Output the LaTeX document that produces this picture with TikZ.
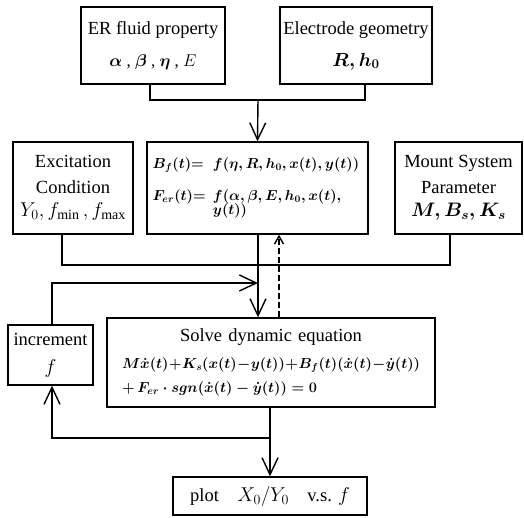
\RequirePackage{fix-cm}
\documentclass[tikz,border=0pt]{standalone}
\usepackage{amsmath}
\usepackage{fontspec}
\setmainfont{Liberation Serif}
\usetikzlibrary{arrows.meta}

\begin{document}
\begin{tikzpicture}
[x=1pt, y=-1pt, line width=1.4pt, color=black,
 >={Straight Barb[length=17pt,width=16pt]},
 box/.style={draw, rectangle, align=center, inner sep=0pt,
   font=\fontsize{18.5}{24}\selectfont}]
%[scale=1, every node/.style={draw}]
  \useasboundingbox (0,0) rectangle (524,517);
  \node [box, minimum width=144, minimum height=77] (er) at (153,45.5)
    {ER fluid property\\[8pt]
     {\fontsize{17}{20}\selectfont$\boldsymbol{\alpha}$ , $\boldsymbol{\beta}$ , $\boldsymbol{\eta}$ , $E$}};
  \node [box, minimum width=152, minimum height=77] (geo) at (356,45.5)
    {Electrode geometry\\[8pt]
     {\fontsize{19}{20}\selectfont\boldmath$R, h_0$}};
  \node [box, minimum width=120, minimum height=92] (exc) at (73,188)
    {Excitation\\[2pt] Condition\\[-1pt]
     {\fontsize{20}{20}\selectfont$Y_0, f_{\min}\, , f_{\max}$}};
  \node [box, minimum width=221, minimum height=92, text width=210, align=left,
         font=\fontsize{14.5}{14}\selectfont] (core) at (257.5,188)
    {\mbox{\boldmath\rlap{$B_f(t){=}$}\hphantom{$F_{er}(t){=}$}\enspace$f(\eta, R, h_0, x(t), y(t))$}\\[16pt]
     \mbox{\boldmath$F_{er}(t){=}$\enspace$f(\alpha, \beta, E, h_0, x(t),$}\\[-1pt]
     \mbox{\boldmath\hphantom{$F_{er}(t){=}$}\enspace$y(t))$}};
  \node [box, minimum width=127, minimum height=92] (mount) at (458.5,188)
    {Mount System\\[2pt] Parameter\\[-1pt]
     {\fontsize{19.5}{20}\selectfont\boldmath$M, B_s, K_s$}};
  \node [box, minimum width=85, minimum height=60] (inc) at (50.5,355)
    {increment\\[4pt] {\fontsize{20}{20}\selectfont$f$}};
  \node [box, minimum width=328, minimum height=89, text width=298, align=left] (solve) at (271,362.5)
    {\makebox[\linewidth]{Solve dynamic equation}\\[3pt]
     {\fontsize{14.5}{15}\selectfont\boldmath$M\dot{x}(t)+K_s(x(t)-y(t))+B_f(t)(\dot{x}(t)-\dot{y}(t))$}\\[0pt]
     {\fontsize{14.5}{15}\selectfont\boldmath$+\,F_{er}\cdot sgn(\dot{x}(t)-\dot{y}(t))=0$}};
  \node [box, minimum width=194, minimum height=38] (plot) at (270,496)
    {plot\quad{\fontsize{20}{20}\selectfont$X_0/Y_0$}\quad v.s. {\fontsize{20}{20}\selectfont$f$}};
  % junctions
  \coordinate (erfoot) at (150,100);
  \coordinate (geofoot) at (365,100);
  \coordinate (top) at (258,100);
  \coordinate (excfoot) at (62,265);
  \coordinate (mountfoot) at (450,265);
  \coordinate (back) at (279,0);
  \coordinate (loopup) at (52,283);
  \coordinate (loopdown) at (270,438);
  \draw (er.south -| erfoot) -- (erfoot) -- (geofoot) -- (geo.south -| geofoot);
  \draw (exc.south -| excfoot) -- (excfoot) -- (mountfoot) -- (mount.south -| mountfoot);
  \draw [->] (top) -- (core.north);
  \draw [->] (core.south -| top) -- (solve.north -| top);
  \draw [->] (solve.south -| loopdown) -- (plot.north -| loopdown);
  \draw [-{Straight Barb[length=8pt,width=9pt]}, dash pattern=on 6pt off 3pt]
    (solve.north -| back) -- (core.south -| back);
  \draw [->] (inc.north -| loopup) -- (loopup) -- (loopup -| top);
  \draw [->] (loopdown) -- (loopdown -| loopup) -- (inc.south -| loopup);
\end{tikzpicture}
\end{document}
